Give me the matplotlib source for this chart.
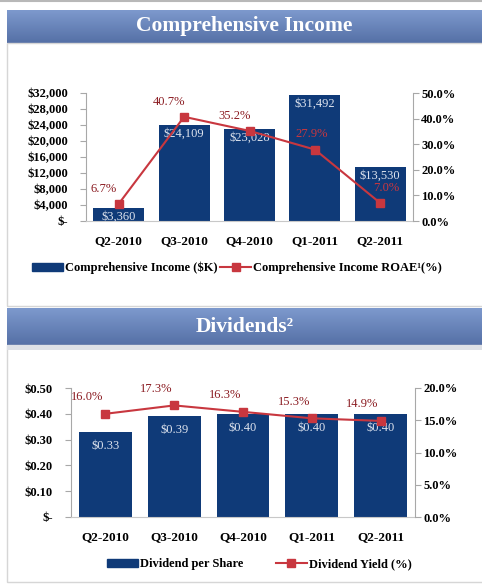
import matplotlib
matplotlib.use("Agg")
import matplotlib.pyplot as plt
import numpy as np
from matplotlib.patches import Rectangle, Patch
from matplotlib.lines import Line2D

plt.rcParams['font.family'] = ['Liberation Serif', 'DejaVu Serif']

quarters = ["Q2-2010", "Q3-2010", "Q4-2010", "Q1-2011", "Q2-2011"]

# comprehensive income ($K) and ROAE (%)
income = [3360, 24109, 23028, 31492, 13530]
roae = [6.7, 40.7, 35.2, 27.9, 7.0]

# dividend per share ($) and dividend yield (%)
dps = [0.33, 0.39, 0.40, 0.40, 0.40]
div_yield = [16.0, 17.3, 16.3, 15.3, 14.9]

navy = "#0f3a78"
red = "#c8373f"
darkred = "#8b1c22"
grey = "#a8a8a8"

W, H = 482, 584
fig = plt.figure(figsize=(W / 100, H / 100), dpi=100)
fig.patch.set_facecolor("white")


def fx(px):
    return px / W


def fy(py):
    return 1 - py / H


def band(y0, y1, title):
    bax = fig.add_axes([fx(7), fy(y1), fx(W - 7), (y1 - y0) / H])
    grad = np.linspace(0, 1, 64).reshape(-1, 1)
    top = np.array([0x7d, 0x99, 0xcd]) / 255
    bot = np.array([0x55, 0x70, 0xa6]) / 255
    img = top + grad[..., None] * (bot - top)
    bax.imshow(img, aspect="auto", extent=[0, 1, 0, 1])
    bax.set_axis_off()
    bax.text(0.5, 0.5, title, color="white", fontsize=15.5, fontweight="bold",
             ha="center", va="center", transform=bax.transAxes)


# panel frames
fig.patches.append(Rectangle((fx(7), fy(306)), fx(W), (306 - 43) / H, transform=fig.transFigure,
                             facecolor="none", edgecolor="#d6d6d6", lw=1))
fig.patches.append(Rectangle((fx(7), fy(582)), fx(W), (582 - 345) / H, transform=fig.transFigure,
                             facecolor="none", edgecolor="#d6d6d6", lw=1))
fig.patches.append(Rectangle((fx(7), fy(350)), fx(W), 5 / H, transform=fig.transFigure,
                             facecolor="#dde0e6", edgecolor="none"))
fig.add_artist(Line2D([0, 1], [fy(1), fy(1)], color="#b8b8b8", lw=1.5))

band(10, 43, "Comprehensive Income")
band(308, 345, "Dividends²")


def style_axes(ax, axr):
    for s in ["top", "right"]:
        ax.spines[s].set_visible(False)
    for s in ["top", "left", "bottom"]:
        axr.spines[s].set_visible(False)
    ax.spines["left"].set_color(grey)
    ax.spines["bottom"].set_color("#c8c8c8")
    axr.spines["right"].set_color(grey)
    ax.tick_params(axis="y", length=4, color=grey, pad=9, labelsize=9)
    axr.tick_params(axis="y", length=4, color=grey, pad=2, labelsize=9)
    ax.tick_params(axis="x", length=0, pad=10, labelsize=9.5)
    for lab in ax.get_yticklabels() + axr.get_yticklabels() + ax.get_xticklabels():
        lab.set_fontweight("bold")
    ax.set_zorder(1)
    axr.set_zorder(2)
    ax.patch.set_visible(False)


# ---- chart 1 ----
x = np.arange(len(quarters))
ax1 = fig.add_axes([fx(86), fy(221), fx(413 - 86), 128 / H])
ax1.bar(x, income, width=0.78, color=navy)
ax1.set_xlim(-0.5, 4.5)
ax1.set_ylim(0, 32000)
yt = np.arange(0, 32001, 4000)
ax1.set_yticks(yt)
ax1.set_yticklabels(["$-"] + [f"${v:,}" for v in yt[1:]])
ax1.set_xticks(x)
ax1.set_xticklabels(quarters)
for xi, v in zip(x, income):
    ax1.annotate(f"${v:,}", (xi, v), xytext=(0, -6.5), textcoords="offset points",
                 ha="center", va="center", color="#dde3ee", fontsize=9)

ax1r = ax1.twinx()
ax1r.plot(x, roae, color=red, lw=1.5, marker="s", ms=6)
ax1r.set_ylim(0, 50)
ax1r.set_yticks(np.arange(0, 51, 10))
ax1r.set_yticklabels([f"{v:.1f}%" for v in np.arange(0, 51, 10)])
roae_dx = [-11, -11, -11, -2, 4]
roae_col = [darkred, darkred, darkred, red, red]
for xi, v, dx, c in zip(x, roae, roae_dx, roae_col):
    ax1r.annotate(f"{v:.1f}%", (xi, v), xytext=(dx, 11), textcoords="offset points",
                  ha="center", va="center", color=c, fontsize=9)
style_axes(ax1, ax1r)

h1 = [Patch(color=navy), Line2D([], [], color=red, marker="s", ms=6, lw=1.5)]
fig.legend(h1, ["Comprehensive Income ($K)", "Comprehensive Income ROAE¹(%)"],
           loc="center", bbox_to_anchor=(fx(237), fy(268)), ncol=2, frameon=False,
           prop={"size": 9, "weight": "bold"}, handlelength=2.5, handleheight=0.6,
           columnspacing=0.2, handletextpad=0.15)

# ---- chart 2 ----
ax2 = fig.add_axes([fx(71), fy(517), fx(415 - 71), 129 / H])
ax2.bar(x, dps, width=0.77, color=navy)
ax2.set_xlim(-0.5, 4.5)
ax2.set_ylim(0, 0.5)
yt2 = np.arange(0, 0.51, 0.1)
ax2.set_yticks(yt2)
ax2.set_yticklabels(["$-"] + [f"${v:.2f}" for v in yt2[1:]])
ax2.set_xticks(x)
ax2.set_xticklabels(quarters)
for xi, v in zip(x, dps):
    ax2.annotate(f"${v:.2f}", (xi, v), xytext=(0, -10), textcoords="offset points",
                 ha="center", va="center", color="#dde3ee", fontsize=9)

ax2r = ax2.twinx()
ax2r.plot(x, div_yield, color=red, lw=1.5, marker="s", ms=6)
ax2r.set_ylim(0, 20)
ax2r.set_yticks(np.arange(0, 21, 5))
ax2r.set_yticklabels([f"{v:.1f}%" for v in np.arange(0, 21, 5)])
for xi, v in zip(x, div_yield):
    ax2r.annotate(f"{v:.1f}%", (xi, v), xytext=(-13, 12), textcoords="offset points",
                  ha="center", va="center", color=darkred, fontsize=9)
style_axes(ax2, ax2r)

h2 = [Patch(color=navy), Line2D([], [], color=red, marker="s", ms=6, lw=1.5)]
fig.legend(h2, ["Dividend per Share", "Dividend Yield (%)"],
           loc="center", bbox_to_anchor=(fx(259), fy(564)), ncol=2, frameon=False,
           prop={"size": 9, "weight": "bold"}, handlelength=2.5, handleheight=0.6,
           columnspacing=2.6, handletextpad=0.15)

fig.savefig("out.png", dpi=100, facecolor="white")
